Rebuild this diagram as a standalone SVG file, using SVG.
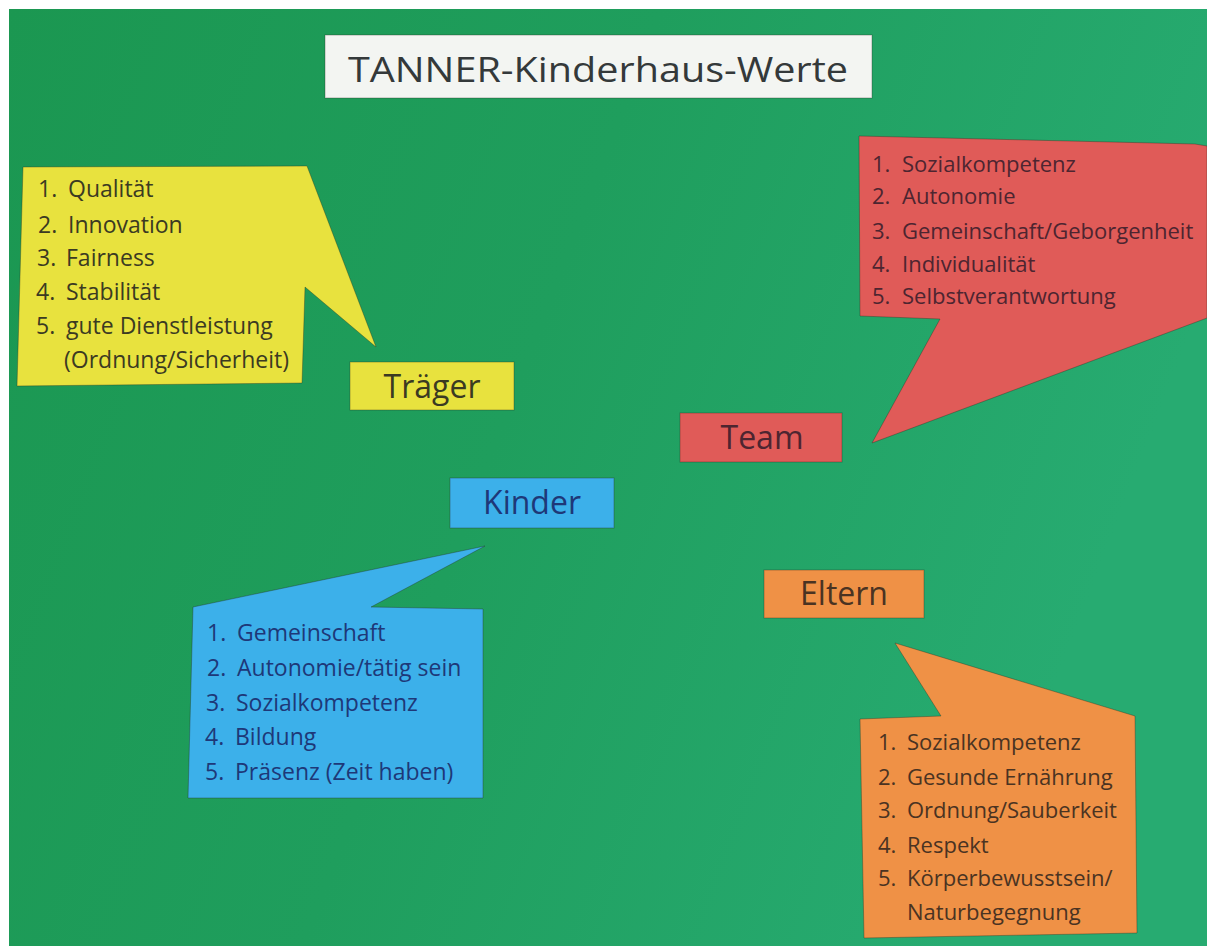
<svg xmlns="http://www.w3.org/2000/svg" width="1207" height="946" viewBox="0 0 1207 946">
<style>
text{font-family:"Open Sans","Noto Sans","DejaVu Sans",sans-serif;}
.card{stroke:rgba(40,40,30,0.35);stroke-width:1;}
.lbl{font-size:32px;text-anchor:middle;}
.li{font-size:23px;}
.li2{font-size:22px;}
.yel{fill:#e8e23e;} .yt{fill:#3b3a22;}
.red{fill:#e05b58;} .rt{fill:#4d2530;}
.blu{fill:#3cb0ea;} .bt{fill:#1e3878;}
.org{fill:#ef9146;} .ot{fill:#4a3322;}
</style>
<defs>
<linearGradient id="bg" x1="0" y1="0" x2="1" y2="0.3">
<stop offset="0" stop-color="#1b9751"/>
<stop offset="0.5" stop-color="#1f9e5d"/>
<stop offset="1" stop-color="#27ab71"/>
</linearGradient>
</defs>
<rect width="1207" height="946" fill="#ffffff"/>
<rect x="9" y="9" width="1198" height="937" fill="url(#bg)"/>

<g id="title">
<rect class="card" x="325" y="35" width="547" height="63" fill="#f3f5f2"/>
<text x="598" y="82" font-size="34" text-anchor="middle" fill="#34393a" textLength="500" lengthAdjust="spacingAndGlyphs">TANNER-Kinderhaus-Werte</text>
</g>

<g id="traeger-werte">
<polygon class="card yel" points="23,167 307,166 376,347 305,287 302,383 17,386"/>
<g class="li yt">
<text x="38" y="197">1.</text><text x="68" y="197">Qualität</text>
<text x="38" y="233">2.</text><text x="68" y="233">Innovation</text>
<text x="37" y="266">3.</text><text x="66" y="266">Fairness</text>
<text x="36" y="300">4.</text><text x="66" y="300">Stabilität</text>
<text x="36" y="334">5.</text><text x="66" y="334">gute Dienstleistung</text>
<text x="64" y="368">(Ordnung/Sicherheit)</text>
</g>
</g>

<g id="traeger">
<rect class="card yel" x="350" y="362" width="164" height="48"/>
<text class="lbl yt" x="432" y="398">Träger</text>
</g>

<g id="team-werte">
<polygon class="card red" points="859,136 1195,144 1207,146 1207,318 872,443 940,319 860,316"/>
<g class="li2 rt">
<text x="872" y="172">1.</text><text x="902" y="172">Sozialkompetenz</text>
<text x="872" y="204">2.</text><text x="902" y="204">Autonomie</text>
<text x="872" y="239">3.</text><text x="902" y="239">Gemeinschaft/Geborgenheit</text>
<text x="872" y="272">4.</text><text x="902" y="272">Individualität</text>
<text x="872" y="304">5.</text><text x="902" y="304">Selbstverantwortung</text>
</g>
</g>

<g id="team">
<rect class="card red" x="680" y="413" width="162" height="49"/>
<text class="lbl rt" x="762" y="449">Team</text>
</g>

<g id="kinder">
<rect class="card blu" x="450" y="478" width="164" height="50"/>
<text class="lbl bt" x="532" y="514">Kinder</text>
</g>

<g id="kinder-werte">
<polygon class="card blu" points="193,607 485,546 371,607 483,609 483,798 188,798"/>
<g class="li bt">
<text x="207" y="641">1.</text><text x="237" y="641">Gemeinschaft</text>
<text x="207" y="676">2.</text><text x="237" y="676">Autonomie/tätig sein</text>
<text x="206" y="711">3.</text><text x="236" y="711">Sozialkompetenz</text>
<text x="205" y="745">4.</text><text x="235" y="745">Bildung</text>
<text x="205" y="780">5.</text><text x="235" y="780">Präsenz (Zeit haben)</text>
</g>
</g>

<g id="eltern">
<rect class="card org" x="764" y="570" width="160" height="48"/>
<text class="lbl ot" x="844" y="605">Eltern</text>
</g>

<g id="eltern-werte">
<polygon class="card org" points="860,719 941,716 895,643 1135,716 1137,933 864,938"/>
<g class="li2 ot">
<text x="878" y="750">1.</text><text x="907" y="750">Sozialkompetenz</text>
<text x="878" y="785">2.</text><text x="907" y="785">Gesunde Ernährung</text>
<text x="878" y="818">3.</text><text x="907" y="818">Ordnung/Sauberkeit</text>
<text x="878" y="853">4.</text><text x="907" y="853">Respekt</text>
<text x="878" y="886">5.</text><text x="907" y="886">Körperbewusstsein/</text>
<text x="907" y="920">Naturbegegnung</text>
</g>
</g>
</svg>
